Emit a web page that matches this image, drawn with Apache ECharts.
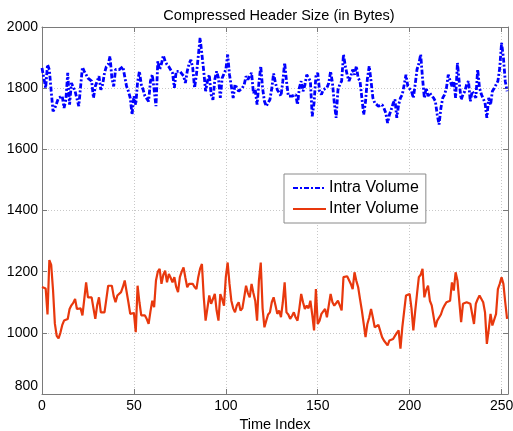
<!DOCTYPE html>
<html>
<head>
<meta charset="utf-8">
<script src="https://cdn.jsdelivr.net/npm/echarts@6/dist/echarts.min.js"></script>
<style>
  html, body { margin: 0; padding: 0; background: #fff; }
  #chart { width: 513px; height: 431px; }
</style>
</head>
<body>
<div id="chart"></div>
<script>
// Header sizes per time index, in bytes
const intraVolume = [
  1866, 1833, 1801, 1877, 1860, 1790, 1724, 1735, 1735, 1768,
  1770, 1774, 1735, 1763, 1850, 1746, 1817, 1823, 1790, 1795,
  1741, 1806, 1868, 1855, 1850, 1833, 1828, 1823, 1768, 1806,
  1806, 1839, 1795, 1812, 1850, 1870, 1877, 1904, 1833, 1806,
  1861, 1861, 1861, 1866, 1870, 1872, 1806, 1790, 1768, 1713,
  1774, 1746, 1820, 1855, 1812, 1795, 1774, 1774, 1757, 1823,
  1844, 1795, 1741, 1888, 1861, 1880, 1907, 1888, 1877, 1870,
  1866, 1850, 1801, 1855, 1855, 1855, 1861, 1840, 1817, 1855,
  1880, 1893, 1866, 1801, 1844, 1904, 1964, 1910, 1855, 1790,
  1823, 1844, 1779, 1762, 1828, 1855, 1833, 1768, 1833, 1833,
  1861, 1910, 1844, 1806, 1768, 1812, 1801, 1790, 1795, 1801,
  1812, 1839, 1828, 1840, 1850, 1784, 1795, 1746, 1817, 1872,
  1800, 1757, 1741, 1746, 1763, 1800, 1848, 1817, 1795, 1785,
  1774, 1823, 1883, 1823, 1774, 1779, 1774, 1779, 1779, 1746,
  1801, 1823, 1790, 1810, 1844, 1850, 1823, 1708, 1752, 1839,
  1850, 1790, 1779, 1795, 1800, 1801, 1817, 1855, 1817, 1752,
  1703, 1795, 1812, 1823, 1910, 1872, 1844, 1823, 1839, 1861,
  1844, 1872, 1833, 1823, 1768, 1713, 1757, 1830, 1872, 1823,
  1768, 1752, 1746, 1741, 1746, 1746, 1735, 1719, 1686, 1713,
  1730, 1750, 1763, 1703, 1746, 1768, 1779, 1810, 1844, 1806,
  1800, 1790, 1768, 1812, 1861, 1880, 1910, 1833, 1768, 1801,
  1774, 1784, 1775, 1768, 1757, 1713, 1681, 1735, 1768, 1779,
  1800, 1844, 1825, 1806, 1823, 1768, 1883, 1817, 1763, 1779,
  1790, 1812, 1823, 1757, 1790, 1780, 1768, 1861, 1801, 1780,
  1779, 1752, 1703, 1768, 1745, 1790, 1800, 1801, 1823, 1866,
  1948, 1900, 1823, 1790
];

const interVolume = [
  1150, 1155, 1145, 1060, 1238, 1222, 1140, 1030, 990, 982,
  1000, 1025, 1040, 1035, 1045, 1078, 1090, 1098, 1111, 1078,
  1073, 1080, 1057, 1110, 1165, 1116, 1120, 1116, 1080, 1046,
  1090, 1116, 1067, 1070, 1067, 1110, 1154, 1150, 1154, 1120,
  1100, 1122, 1125, 1133, 1150, 1171, 1171, 1100, 1062, 1057,
  1065, 1002, 1154, 1100, 1057, 1060, 1057, 1045, 1029, 1070,
  1105, 1084, 1171, 1200, 1209, 1160, 1190, 1203, 1165, 1192,
  1180, 1165, 1182, 1150, 1133, 1182, 1200, 1214, 1180, 1149,
  1160, 1155, 1160, 1150, 1143, 1182, 1210, 1225, 1116, 1040,
  1040, 1122, 1095, 1095, 1127, 1073, 1040, 1127, 1110, 1089,
  1182, 1230, 1160, 1105, 1080, 1067, 1090, 1100, 1073, 1080,
  1116, 1154, 1130, 1116, 1160, 1130, 1105, 1040, 1171, 1230,
  1080, 1018, 1040, 1060, 1067, 1100, 1116, 1090, 1062, 1073,
  1051, 1100, 1165, 1067, 1060, 1046, 1055, 1067, 1050, 1040,
  1080, 1127, 1100, 1078, 1089, 1080, 1105, 1060, 1008, 1143,
  1029, 1040, 1062, 1070, 1078, 1051, 1090, 1127, 1100, 1089,
  1089, 1105, 1090, 1073, 1182, 1187, 1185, 1182, 1160, 1143,
  1198, 1170, 1149, 1110, 1073, 1030, 986, 1029, 1050, 1078,
  1050, 1018, 1024, 1026, 1029, 986, 975, 980, 959, 975,
  975, 980, 990, 1000, 1008, 948, 1018, 1070, 1122, 1127,
  1127, 1080, 1008, 1070, 1127, 1182, 1190, 1209, 1116, 1140,
  1154, 1105, 1090, 1084, 1018, 1040, 1040, 1060, 1078, 1090,
  1100, 1105, 1105, 1165, 1138, 1198, 1171, 1171, 1035, 1095,
  1095, 1100, 1100, 1095, 1095, 1029, 1095, 1110, 1122, 1116,
  1100, 1067, 964, 1010, 1062, 1024, 1024, 1062, 1143, 1160,
  1182, 1160, 1100, 1046
];

const seriesNames = ['Intra Volume', 'Inter Volume'];
const xTicks = [0, 50, 100, 150, 200, 250];
const yTicks = [800, 1000, 1200, 1400, 1600, 1800, 2000];

const FONT = '"Liberation Sans", Arial, Helvetica, sans-serif';
const AXIS_COLOR = '#7a7a7a';
const GRID_COLOR = '#c8c8c8';
const X_MAX = 253.5;

const toPairs = arr => arr.map((v, i) => [i, v]);

const chart = echarts.init(document.getElementById('chart'), null, { renderer: 'canvas' });

const baseX = {
  type: 'value',
  min: xTicks[0],
  max: X_MAX,
  interval: xTicks[1] - xTicks[0],
  axisLine: { show: true, onZero: false, lineStyle: { color: AXIS_COLOR, width: 1 } },
  axisTick: { show: true, inside: true, length: 5, lineStyle: { color: AXIS_COLOR } },
  splitLine: { show: false }
};
const baseY = {
  type: 'value',
  min: yTicks[0],
  max: yTicks[yTicks.length - 1],
  interval: yTicks[1] - yTicks[0],
  axisLine: { show: true, onZero: false, lineStyle: { color: AXIS_COLOR, width: 1 } },
  axisTick: { show: true, inside: true, length: 5, lineStyle: { color: AXIS_COLOR } },
  splitLine: { show: false }
};

chart.setOption({
  animation: false,
  backgroundColor: '#ffffff',
  title: {
    text: 'Compressed Header Size (in Bytes)',
    left: 274,
    textAlign: 'center',
    top: 3,
    textStyle: { fontFamily: FONT, fontSize: 14.5, fontWeight: 'normal', color: '#000' }
  },
  grid: {
    left: 42, top: 27, width: 466, height: 367,
    containLabel: false,
    outerBoundsMode: 'none'
  },
  legend: {
    data: seriesNames,
    orient: 'vertical',
    left: 284,
    top: 174,
    padding: [6, 7, 6, 8],
    itemGap: 5,
    itemWidth: 33,
    itemHeight: 14,
    itemStyle: { opacity: 0 },
    backgroundColor: '#ffffff',
    borderColor: '#8a8a8a',
    borderWidth: 1,
    borderRadius: 0,
    textStyle: { fontFamily: FONT, fontSize: 16, color: '#000', padding: [0, 0, 0, -2] }
  },
  xAxis: [
    Object.assign({}, baseX, {
      position: 'bottom',
      name: 'Time Index',
      nameLocation: 'middle',
      nameGap: 23,
      nameTextStyle: { fontFamily: FONT, fontSize: 14.5, color: '#000' },
      axisLabel: {
        show: true, showMaxLabel: false, margin: 5,
        fontFamily: FONT, fontSize: 14, color: '#000'
      },
      splitLine: { show: true, lineStyle: { color: GRID_COLOR, type: [1, 2], width: 1 } }
    }),
    Object.assign({}, baseX, { position: 'top', axisLabel: { show: false } })
  ],
  yAxis: [
    Object.assign({}, baseY, {
      position: 'left',
      axisLabel: {
        show: true, margin: 4,
        fontFamily: FONT, fontSize: 14, color: '#000',
        formatter: v => (v === yTicks[0] ? '{low|' + v + '}' : String(v)),
        rich: { low: { fontFamily: FONT, fontSize: 14, color: '#000', padding: [0, 0, 16, 0] } }
      },
      splitLine: { show: true, lineStyle: { color: GRID_COLOR, type: [1, 2], width: 1 } }
    }),
    Object.assign({}, baseY, { position: 'right', axisLabel: { show: false } })
  ],
  series: [
    {
      name: seriesNames[0],
      type: 'line',
      xAxisIndex: 0,
      yAxisIndex: 0,
      data: toPairs(intraVolume),
      showSymbol: false,
      symbol: 'none',
      lineStyle: { color: '#0000ff', width: 2.8, type: [5, 2, 2, 2] },
      itemStyle: { color: '#0000ff' },
      z: 3
    },
    {
      name: seriesNames[1],
      type: 'line',
      xAxisIndex: 0,
      yAxisIndex: 0,
      data: toPairs(interVolume),
      showSymbol: false,
      symbol: 'none',
      lineStyle: { color: '#e8380d', width: 2.2 },
      itemStyle: { color: '#e8380d' },
      z: 3
    }
  ]
});
</script>
</body>
</html>
